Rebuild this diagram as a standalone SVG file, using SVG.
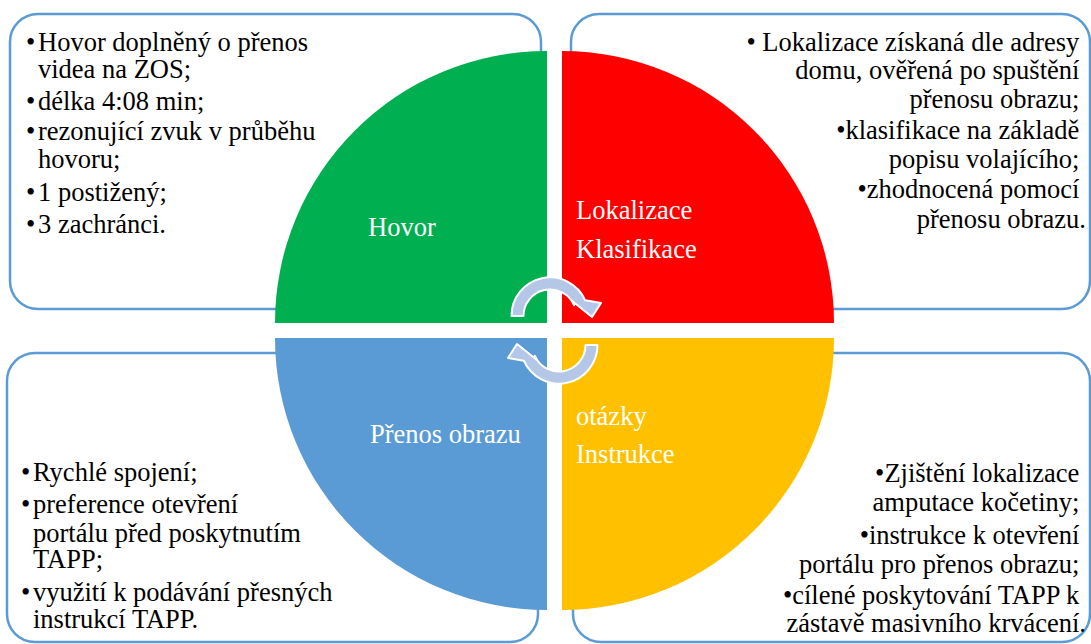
<svg xmlns="http://www.w3.org/2000/svg" width="1091" height="644" viewBox="0 0 1091 644">
  <style>
    .box { fill: #FFFFFF; stroke: #5B9BD5; stroke-width: 2.5; }
    .txt { font-family: "Liberation Serif", "Times New Roman", serif; font-size: 26.5px; fill: #000000; }
    .lbl { font-family: "Liberation Serif", "Times New Roman", serif; font-size: 26.5px; fill: #FFFFFF; }
    .end { text-anchor: end; }
    .cyc { fill: #B4C7E7; stroke: #FFFFFF; stroke-width: 2; stroke-linejoin: round; }
  </style>
  <defs>
    <!-- one curved cycle arrow; the second is the same shape turned half a turn -->
    <path id="cycleArrow" d="M511.5,316 A38.5,38.5 0 0 1 585.2,300.3 L601,303 L592,317 L571.5,300.5 L574.2,305.2 A26.5,26.5 0 0 0 523.5,316 Z"/>
  </defs>
  <rect width="1091" height="644" fill="#FFFFFF"/>

  <!-- description boxes -->
  <g id="box-hovor">
    <rect class="box" x="10" y="14" width="531" height="295" rx="28" ry="28"/>
    <text class="txt">
      <tspan x="26" y="51">•</tspan><tspan x="38" y="51">Hovor doplněný o přenos</tspan>
      <tspan x="38" y="78">videa na ZOS;</tspan>
      <tspan x="26" y="110">•</tspan><tspan x="38" y="110">délka 4:08 min;</tspan>
      <tspan x="26" y="140">•</tspan><tspan x="38" y="140">rezonující zvuk v průběhu</tspan>
      <tspan x="38" y="168">hovoru;</tspan>
      <tspan x="26" y="201">•</tspan><tspan x="38" y="201">1 postižený;</tspan>
      <tspan x="26" y="233">•</tspan><tspan x="38" y="233">3 zachránci.</tspan>
    </text>
  </g>
  <g id="box-lokalizace">
    <rect class="box" x="571" y="14" width="519" height="295" rx="28" ry="28"/>
    <text class="txt end">
      <tspan x="1086" y="51">• Lokalizace získaná dle adresy</tspan>
      <tspan x="1086" y="79">domu, ověřená po spuštění</tspan>
      <tspan x="1086" y="108">přenosu obrazu;</tspan>
      <tspan x="1086" y="139">•klasifikace na základě</tspan>
      <tspan x="1086" y="168">popisu volajícího;</tspan>
      <tspan x="1086" y="198">•zhodnocená pomocí</tspan>
      <tspan x="1086" y="228">přenosu obrazu.</tspan>
    </text>
  </g>
  <g id="box-prenos">
    <rect class="box" x="7" y="353" width="531" height="289" rx="28" ry="28"/>
    <text class="txt">
      <tspan x="21" y="481">•</tspan><tspan x="33" y="481">Rychlé spojení;</tspan>
      <tspan x="21" y="513">•</tspan><tspan x="33" y="513">preference otevření</tspan>
      <tspan x="33" y="542">portálu před poskytnutím</tspan>
      <tspan x="33" y="568">TAPP;</tspan>
      <tspan x="21" y="601">•</tspan><tspan x="33" y="601">využití k podávání přesných</tspan>
      <tspan x="33" y="628">instrukcí TAPP.</tspan>
    </text>
  </g>
  <g id="box-instrukce">
    <rect class="box" x="573" y="353" width="517" height="289" rx="28" ry="28"/>
    <text class="txt end">
      <tspan x="1086" y="482">•Zjištění lokalizace</tspan>
      <tspan x="1086" y="511">amputace kočetiny;</tspan>
      <tspan x="1086" y="544">•instrukce k otevření</tspan>
      <tspan x="1086" y="573">portálu pro přenos obrazu;</tspan>
      <tspan x="1086" y="604">•cílené poskytování TAPP k</tspan>
      <tspan x="1086" y="632">zástavě masivního krvácení.</tspan>
    </text>
  </g>

  <!-- quadrants -->
  <g id="quad-hovor">
    <path d="M547,323 L275,323 A272,272 0 0 1 547,51 Z" fill="#00B050"/>
    <text class="lbl" x="368" y="236">Hovor</text>
  </g>
  <g id="quad-lokalizace">
    <path d="M562,323 L562,51 A272,272 0 0 1 834,323 Z" fill="#FF0000"/>
    <text class="lbl"><tspan x="576" y="219">Lokalizace</tspan><tspan x="576" y="258">Klasifikace</tspan></text>
  </g>
  <g id="quad-prenos">
    <path d="M547,338 L547,610 A272,272 0 0 1 275,338 Z" fill="#5B9BD5"/>
    <text class="lbl" x="370" y="443">Přenos obrazu</text>
  </g>
  <g id="quad-instrukce">
    <path d="M562,338 L834,338 A272,272 0 0 1 562,610 Z" fill="#FFC000"/>
    <text class="lbl"><tspan x="576" y="425">otázky</tspan><tspan x="576" y="463">Instrukce</tspan></text>
  </g>

  <!-- cycle arrows in the centre -->
  <g id="connectors">
    <use href="#cycleArrow" class="cyc"/>
    <use href="#cycleArrow" class="cyc" transform="rotate(180 554.5 330.5)"/>
  </g>
</svg>
